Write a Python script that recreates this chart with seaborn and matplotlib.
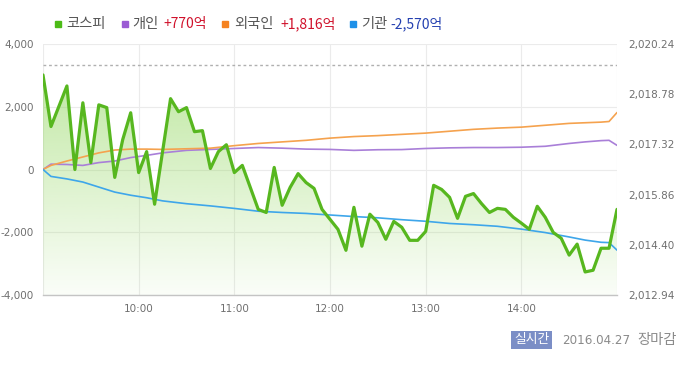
import numpy as np
import pandas as pd
import matplotlib
matplotlib.use("Agg")
import matplotlib.pyplot as plt
import seaborn as sns
from matplotlib.patches import Rectangle
from matplotlib.colors import to_rgb

# ---------------- data ----------------
kospi_times = ["09:00", "09:05", "09:15", "09:20", "09:25", "09:30", "09:35", "09:40",
               "09:45", "09:50", "09:55", "10:00", "10:05", "10:10", "10:20", "10:25",
               "10:30", "10:35", "10:40", "10:45", "10:50", "10:55", "11:00", "11:05",
               "11:15", "11:20", "11:25", "11:30", "11:35", "11:40", "11:45", "11:50",
               "11:55", "12:05", "12:10", "12:15", "12:20", "12:25", "12:30", "12:35",
               "12:40", "12:45", "12:50", "12:55", "13:00", "13:05", "13:10", "13:15",
               "13:20", "13:25", "13:30", "13:35", "13:40", "13:45", "13:50", "13:55",
               "14:00", "14:05", "14:10", "14:15", "14:20", "14:25", "14:30", "14:35",
               "14:40", "14:45", "14:50", "14:55", "15:00"]
kospi_values = [2019.34, 2017.84, 2019.02, 2016.59, 2018.53, 2016.79, 2018.47, 2018.39,
                2016.36, 2017.46, 2018.24, 2016.50, 2017.11, 2015.58, 2018.65, 2018.27,
                2018.39, 2017.69, 2017.72, 2016.62, 2017.11, 2017.31, 2016.50, 2016.71,
                2015.43, 2015.34, 2016.65, 2015.55, 2016.07, 2016.47, 2016.21, 2016.04,
                2015.43, 2014.85, 2014.24, 2015.49, 2014.36, 2015.29, 2015.05, 2014.56,
                2015.08, 2014.91, 2014.53, 2014.53, 2014.79, 2016.13, 2016.01, 2015.78,
                2015.17, 2015.81, 2015.89, 2015.60, 2015.34, 2015.46, 2015.43, 2015.20,
                2015.03, 2014.85, 2015.52, 2015.20, 2014.76, 2014.59, 2014.10, 2014.42,
                2013.61, 2013.66, 2014.30, 2014.30, 2015.43]
prev_close = 2019.63

inv_times = ["09:00", "09:05", "09:15", "09:25", "09:35", "09:45", "09:55", "10:05",
             "10:15", "10:30", "10:45", "11:00", "11:15", "11:30", "11:45", "12:00",
             "12:15", "12:30", "12:45", "13:00", "13:15", "13:30", "13:45", "14:00",
             "14:15", "14:30", "14:40", "14:50", "14:55", "15:00"]
individual = [0, 170, 160, 130, 220, 270, 380, 450, 530, 610, 640, 670, 700, 680, 650,
              640, 610, 630, 635, 670, 690, 700, 700, 710, 740, 830, 880, 920, 930, 770]
foreign = [0, 130, 270, 400, 530, 620, 650, 650, 640, 660, 680, 760, 830, 880, 930,
           1000, 1050, 1080, 1120, 1160, 1220, 1280, 1320, 1350, 1410, 1470, 1490, 1510,
           1530, 1816]
institution = [0, -220, -300, -400, -560, -720, -820, -900, -1000, -1090, -1160, -1240,
               -1330, -1370, -1400, -1450, -1500, -1540, -1600, -1650, -1720, -1760,
               -1810, -1900, -2010, -2150, -2250, -2320, -2330, -2570]

series_names = ["개인", "외국인", "기관"]
series_colors = ["#a97fd8", "#f5a24e", "#3ea6ea"]

legend_labels = ["코스피", "개인", "외국인", "기관"]
legend_values = ["", "+770억", "+1,816억", "-2,570억"]
legend_colors = ["#4cbb17", "#9b5bd4", "#f58220", "#1e90e8"]
value_colors = ["", "#d0112b", "#d0112b", "#2440b0"]

left_ticks = [-4000, -2000, 0, 2000, 4000]
left_labels = ["-4,000", "-2,000", "0", "2,000", "4,000"]
right_ticks = [2012.94, 2014.40, 2015.86, 2017.32, 2018.78, 2020.24]
right_labels = ["2,012.94", "2,014.40", "2,015.86", "2,017.32", "2,018.78", "2,020.24"]
x_tick_times = ["09:00", "10:00", "11:00", "12:00", "13:00", "14:00", "15:00"]
x_tick_labels = ["", "10:00", "11:00", "12:00", "13:00", "14:00", ""]


def to_min(s):
    h, m = s.split(":")
    return (int(h) - 9) * 60 + int(m)


# ---------------- style ----------------
sns.set_theme(style="white")
plt.rcParams['font.family'] = ['Noto Sans CJK KR', 'DejaVu Sans']

fig = plt.figure(figsize=(7, 3.69), dpi=100)
W, H = 700, 369
ax1 = fig.add_axes([43 / W, 1 - 295 / H, 574 / W, 251 / H])
ax2 = ax1.twinx()

# investors (left axis)
inv_x = [to_min(t) for t in inv_times]
df_inv = pd.DataFrame({
    "t": inv_x * 3,
    "v": individual + foreign + institution,
    "who": sum([[n] * len(inv_x) for n in series_names], []),
})
sns.lineplot(data=df_inv, x="t", y="v", hue="who", hue_order=series_names,
             palette=series_colors, linewidth=1.2, legend=False, ax=ax1, zorder=3)

# kospi (right axis)
kx = [to_min(t) for t in kospi_times]
df_k = pd.DataFrame({"t": kx, "v": kospi_values})
sns.lineplot(data=df_k, x="t", y="v", color="#57b71f", linewidth=2.3, ax=ax2, zorder=4)
ax2.axhline(prev_close, color="#b0b0b0", linewidth=1.0, linestyle=(0, (2, 2)), zorder=2)

# gradient fill under kospi
poly = ax2.fill_between(kx, kospi_values, right_ticks[0], color="none", linewidth=0)
grad = np.zeros((256, 1, 4))
grad[..., :3] = to_rgb("#8fd65a")
grad[..., 3] = np.linspace(0.62, 0.04, 256)[:, None]
im = ax1.imshow(grad, extent=[0, 1, 0, 1], transform=ax1.transAxes, aspect="auto",
                origin="upper", zorder=0.6, interpolation="bilinear")
im.set_clip_path(poly.get_paths()[0], transform=ax2.transData)

# axes setup
xt = [to_min(t) for t in x_tick_times]
for ax in (ax1, ax2):
    ax.set_xlim(0, 360)
    ax.set_xlabel("")
    ax.set_ylabel("")
    for sp in ("top", "left", "right"):
        ax.spines[sp].set_visible(False)
ax2.spines["bottom"].set_visible(False)
ax1.spines["bottom"].set_color("#c4c4c4")
ax1.spines["bottom"].set_linewidth(1.0)

ax1.set_ylim(-4000, 4000)
ax1.set_yticks(left_ticks)
ax1.set_yticklabels(left_labels)
ax2.set_ylim(right_ticks[0], right_ticks[-1])
ax2.set_yticks(right_ticks)
ax2.set_yticklabels(right_labels)
ax1.set_xticks(xt)
ax1.set_xticklabels(x_tick_labels)

ax1.grid(True, color="#ebebeb", linewidth=0.8)
ax1.set_axisbelow(True)
ax2.grid(False)

ax1.tick_params(axis="y", length=0, pad=6.5, labelcolor="#6f6f6f", labelsize=7.5)
ax2.tick_params(axis="y", length=0, pad=8, labelcolor="#6f6f6f", labelsize=7.5)
ax1.tick_params(axis="x", direction="in", length=5, width=1, color="#c4c4c4",
                pad=6.5, labelcolor="#6f6f6f", labelsize=7.5)
for lab in ax1.get_yticklabels() + ax2.get_yticklabels() + ax1.get_xticklabels():
    lab.set_fontfamily("DejaVu Sans")

# ---------------- legend ----------------
ly = 1 - 24 / H
sq_x = [55, 122, 222, 350]
lab_x = [66, 132, 234, 361]
val_x = [None, 163, 280, 390]
for i in range(4):
    fig.patches.append(Rectangle((sq_x[i] / W, 1 - 27 / H), 6 / W, 6 / H,
                                 transform=fig.transFigure, color=legend_colors[i]))
    fig.text(lab_x[i] / W, ly, legend_labels[i], ha="left", va="center",
             fontsize=10.3, color="#555555")
    if legend_values[i]:
        fig.text(val_x[i] / W, ly, legend_values[i], ha="left", va="center",
                 fontsize=10, color=value_colors[i])

# ---------------- bottom-right info ----------------
fig.text(514 / W, 1 - 340 / H, "실시간", ha="left", va="center", fontsize=9.2,
         color="white",
         bbox=dict(boxstyle="square,pad=0.22", facecolor="#7b8ec6", edgecolor="none"))
fig.text(562 / W, 1 - 340 / H, "2016.04.27", ha="left", va="center", fontsize=8.6,
         color="#8a8a8a", family="DejaVu Sans")
fig.text(637 / W, 1 - 340 / H, "장마감", ha="left", va="center", fontsize=10.3,
         color="#8a8a8a")

fig.savefig("out.png", dpi=100)
